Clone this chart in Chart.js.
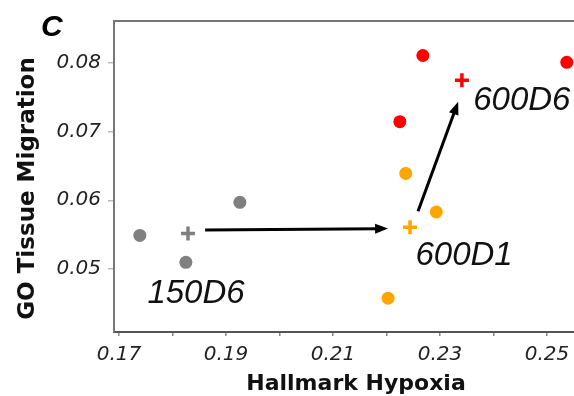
<!DOCTYPE html>
<html>
<head>
<meta charset="utf-8">
<script src="https://cdn.jsdelivr.net/npm/chart.js@4"></script>
<style>
html,body{margin:0;padding:0;background:#fff;}
#wrap{width:574px;height:396px;}
</style>
</head>
<body>
<div id="wrap"><canvas id="hypoxiaChart" width="574" height="396"></canvas></div>
<script>
// samples: Hallmark Hypoxia (x) vs GO Tissue Migration (y)
const d150X=[0.1739,0.1825,0.1926];
const d150Y=[0.0549,0.0510,0.0597];
const d600d1X=[0.2236,0.2293,0.2203];
const d600d1Y=[0.0639,0.0583,0.0458];
const d600d6X=[0.2268,0.2225,0.2537];
const d600d6Y=[0.0810,0.0714,0.0800];

// group means (the + marks)
const meanX=[0.1829,0.2244,0.2341];
const meanY=[0.0552,0.0561,0.0774];
const groupNames=["150D6","600D1","600D6"];

// arrows between groups
const arrowFromX=[0.1861,0.2259];
const arrowFromY=[0.0557,0.0584];
const arrowToX=[0.2203,0.2334];
const arrowToY=[0.0559,0.0743];

// where the group names sit
const labelX=[0.1844,0.2345,0.2453];
const labelY=[0.0465,0.0519,0.0744];

const xTicks=[0.17,0.18,0.19,0.20,0.21,0.22,0.23,0.24,0.25];
const xTickLabels=["0.17","0.19","0.21","0.23","0.25"];
const yTicks=[0.05,0.06,0.07,0.08];

const xTitle="Hallmark Hypoxia";
const yTitle="GO Tissue Migration";

const grey="#808080", orange="#FFA500", red="#FF0000";

function pts(xs,ys){
return xs.map((x,i)=>({x:x,y:ys[i]}));
}

const extras={
id:"extras",
beforeDatasetsDraw(chart){
const ctx=chart.ctx, a=chart.chartArea;
ctx.save();
ctx.strokeStyle="#777";
ctx.lineWidth=2;
ctx.beginPath();
ctx.moveTo(a.left,a.top);
ctx.lineTo(a.right,a.top);
ctx.stroke();
ctx.restore();
},
afterDatasetsDraw(chart){
const ctx=chart.ctx, a=chart.chartArea;
const xs=chart.scales.x, ys=chart.scales.y;
ctx.save();
ctx.strokeStyle="#000";
ctx.fillStyle="#000";
ctx.lineWidth=3;
for(let i=0;i<arrowFromX.length;i++){
const x1=xs.getPixelForValue(arrowFromX[i]), y1=ys.getPixelForValue(arrowFromY[i]);
const x2=xs.getPixelForValue(arrowToX[i]), y2=ys.getPixelForValue(arrowToY[i]);
const ang=Math.atan2(y2-y1,x2-x1);
const head=13, half=5;
ctx.beginPath();
ctx.moveTo(x1,y1);
ctx.lineTo(x2-Math.cos(ang)*head*0.8,y2-Math.sin(ang)*head*0.8);
ctx.stroke();
ctx.beginPath();
ctx.moveTo(x2,y2);
ctx.lineTo(x2-Math.cos(ang)*head-Math.sin(ang)*half,y2-Math.sin(ang)*head+Math.cos(ang)*half);
ctx.lineTo(x2-Math.cos(ang)*head+Math.sin(ang)*half,y2-Math.sin(ang)*head-Math.cos(ang)*half);
ctx.closePath();
ctx.fill();
}
ctx.font='italic 33px "Liberation Sans"';
ctx.textAlign="center";
ctx.textBaseline="middle";
ctx.fillStyle="#111";
groupNames.forEach((n,i)=>{
ctx.fillText(n,xs.getPixelForValue(labelX[i]),ys.getPixelForValue(labelY[i]));
});

// axis titles
ctx.fillStyle="#111";
ctx.font='bold 22px "DejaVu Sans"';
ctx.fillText(xTitle,(a.left+a.right)/2+12,chart.height-12);
ctx.save();
ctx.translate(28,(a.top+a.bottom)/2+12);
ctx.rotate(-Math.PI/2);
ctx.font='bold 23px "DejaVu Sans"';
ctx.fillText(yTitle,0,0);
ctx.restore();

ctx.font='italic bold 30px "Liberation Sans"';
ctx.textAlign="left";
ctx.textBaseline="alphabetic";
ctx.fillStyle="#000";
ctx.fillText("C",41,36);
ctx.restore();
}
};

const tickFont={family:"DejaVu Sans",size:20,style:"italic"};

new Chart(document.getElementById("hypoxiaChart"),{
type:"scatter",
data:{
datasets:[
{label:"150D6",data:pts(d150X,d150Y),backgroundColor:grey,pointRadius:6.5,borderWidth:0},
{label:"600D1",data:pts(d600d1X,d600d1Y),backgroundColor:orange,pointRadius:6.5,borderWidth:0},
{label:"600D6",data:pts(d600d6X,d600d6Y),backgroundColor:red,pointRadius:6.5,borderWidth:0},
{label:"mean 150D6",data:[{x:meanX[0],y:meanY[0]}],pointStyle:"cross",borderColor:grey,pointRadius:7,borderWidth:3.5},
{label:"mean 600D1",data:[{x:meanX[1],y:meanY[1]}],pointStyle:"cross",borderColor:orange,pointRadius:7,borderWidth:3.5},
{label:"mean 600D6",data:[{x:meanX[2],y:meanY[2]}],pointStyle:"cross",borderColor:red,pointRadius:7,borderWidth:3.5}
]
},
options:{
responsive:false,
animation:false,
layout:{autoPadding:false,padding:{top:21,right:0,left:0,bottom:0}},
plugins:{legend:{display:false},tooltip:{enabled:false}},
scales:{
x:{
type:"linear",
min:0.16907,
max:0.25505,
afterBuildTicks:s=>{s.ticks=xTicks.map(v=>({value:v}));},
afterFit:s=>{s.height=64;s.paddingLeft=0;s.paddingRight=0;},
ticks:{
autoSkip:false,
maxRotation:0,
padding:7,
color:"#222",
font:tickFont,
callback:v=>xTickLabels.includes(v.toFixed(2))?v.toFixed(2):""
},
grid:{drawOnChartArea:false,drawTicks:true,tickLength:4,color:"#888",lineWidth:1.5},
border:{color:"#555",width:2}
},
y:{
type:"linear",
min:0.0409,
max:0.086,
afterBuildTicks:s=>{s.ticks=yTicks.map(v=>({value:v}));},
afterFit:s=>{s.width=114;s.paddingTop=0;s.paddingBottom=0;},
ticks:{
padding:7,
color:"#222",
font:tickFont,
callback:v=>v.toFixed(2)
},
grid:{drawOnChartArea:false,drawTicks:true,tickLength:6,color:"#bbb",lineWidth:1.5},
border:{color:"#777",width:2}
}
}
},
plugins:[extras]
});
</script>
</body>
</html>
